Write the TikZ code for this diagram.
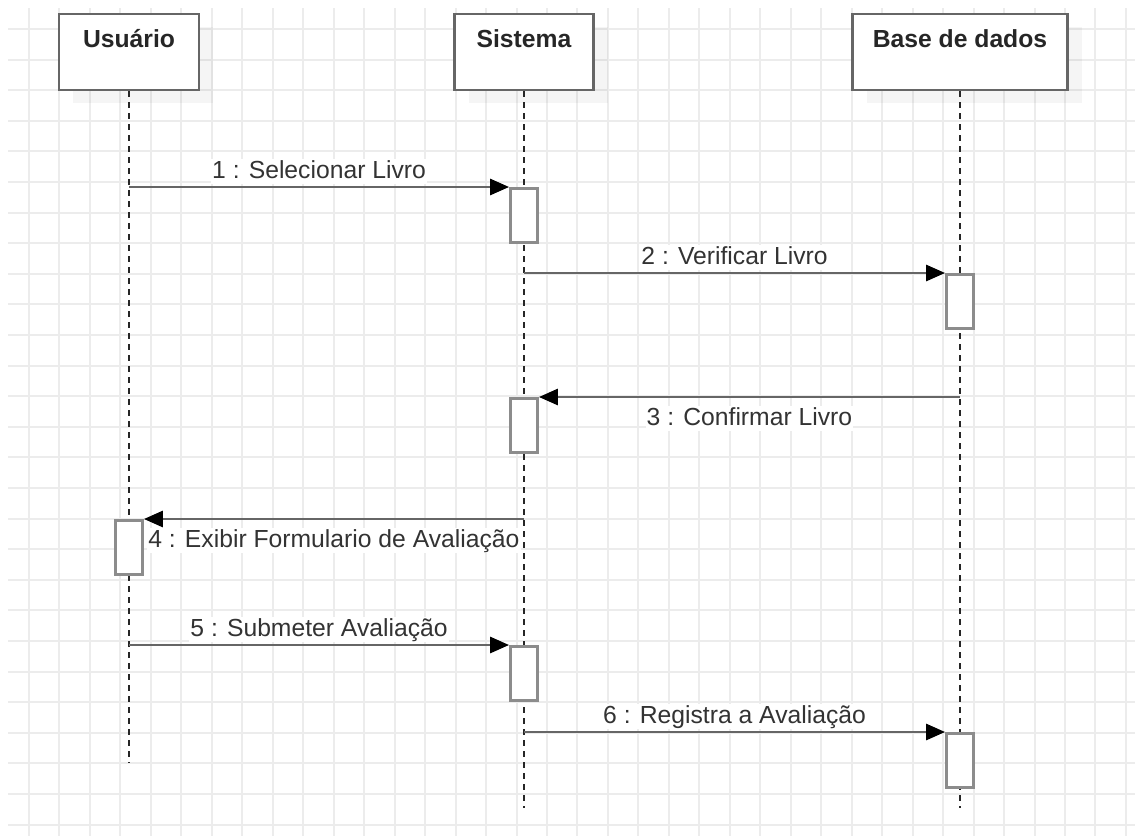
\documentclass[tikz,border=0pt]{standalone}
\usepackage{fontspec}
\setmainfont{Liberation Sans}
\usetikzlibrary{arrows.meta,positioning,calc,shadows}
\definecolor{gridcol}{RGB}{236,236,236}
\definecolor{framecol}{RGB}{102,102,102}
\definecolor{actcol}{RGB}{140,140,140}
\definecolor{labelcol}{RGB}{51,51,51}
\tikzset{>={Triangle[length=19pt,width=16pt,color=black]}}
\def\gridstepx{30.47}
\def\gridstepy{30.6}
\def\gridoff{29}
\def\fsize{24.7}
\tikzset{
  gridline/.style={draw=gridcol,line width=2pt},
  headbox/.style={rectangle,draw=framecol,line width=2.8pt,fill=white,minimum height=76pt,inner sep=0pt,
    drop shadow={shadow xshift=14pt,shadow yshift=-13pt,fill=black,opacity=0.04}},
  headtext/.style={anchor=base,yshift=-35pt,text=black!85,font=\bfseries\fontsize{\fsize}{30}\selectfont},
  lifeline/.style={draw=black!85,line width=1.8pt,dash pattern=on 6pt off 5pt},
  actbox/.style={rectangle,draw=actcol,line width=2.8pt,fill=white,minimum width=27pt,minimum height=54pt,inner sep=0pt},
  msg/.style={draw=framecol,line width=2.8pt,->},
  msglabel/.style={fill=white,text=labelcol,inner sep=1pt,text height=18pt,text depth=5pt,font=\fontsize{\fsize}{30}\selectfont},
  labelabove/.style={msglabel,midway,anchor=base,yshift=9pt},
  labelbelow/.style={msglabel,midway,anchor=base,yshift=-28pt},
}
\begin{document}
\begin{tikzpicture}[x=1pt,y=-1pt]
  \fill[white] (0,0) rectangle (1135,836);
  \useasboundingbox (0,0) rectangle (1135,836);

  %% background grid
  \foreach \i in {0,...,36}
    \draw[gridline] ({\gridoff+\i*\gridstepx},8) -- ({\gridoff+\i*\gridstepx},836);
  \foreach \j in {0,...,26}
    \draw[gridline] (8,{\gridoff+\j*\gridstepy}) -- (1135,{\gridoff+\j*\gridstepy});

  %% participants
  \node[headbox,minimum width=140pt,label={[headtext]north:Usuário}] (usuario) at (129,52) {};
  \node[headbox,minimum width=139pt,label={[headtext]north:Sistema}] (sistema) at (524,52) {};
  \node[headbox,minimum width=215pt,label={[headtext]north:Base de dados}] (base) at (960,52) {};

  %% lifelines
  \coordinate (usuarioend) at (129,763);
  \coordinate (sistemaend) at (524,808);
  \coordinate (baseend) at (960,808);
  \foreach \ll in {usuario,sistema,base}
    \draw[lifeline] (\ll.south) -- (\ll end);

  %% activations
  \foreach \nm/\ll/\ytop in {act1/sistema/187,act2/base/273,act3/sistema/397,act4/usuario/519,act5/sistema/645,act6/base/732}
    \node[actbox,anchor=north] (\nm) at (\ll |- 0,\ytop) {};

  %% messages
  \draw[msg] (usuario |- act1.north) -- (act1.north west) node[labelabove] {1 : Selecionar Livro};
  \draw[msg] (sistema |- act2.north) -- (act2.north west) node[labelabove] {2 : Verificar Livro};
  \draw[msg] (base |- act3.north) -- (act3.north east) node[labelbelow] {3 : Confirmar Livro};
  \draw[msg] (sistema |- act4.north) -- (act4.north east) node[labelbelow] {4 : Exibir Formulario de Avaliação};
  \draw[msg] (usuario |- act5.north) -- (act5.north west) node[labelabove] {5 : Submeter Avaliação};
  \draw[msg] (sistema |- act6.north) -- (act6.north west) node[labelabove] {6 : Registra a Avaliação};
\end{tikzpicture}
\end{document}
